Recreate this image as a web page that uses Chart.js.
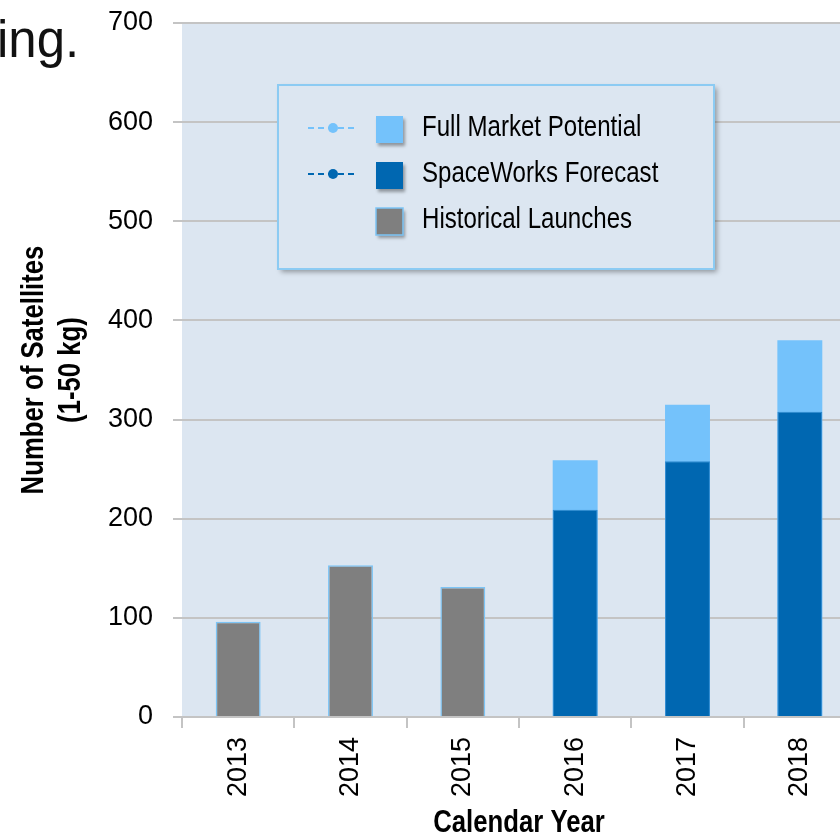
<!DOCTYPE html>
<html>
<head>
<meta charset="utf-8">
<script src="https://cdn.jsdelivr.net/npm/chart.js@4.4.1/dist/chart.umd.min.js"></script>
<style>
  html, body { margin: 0; padding: 0; background: #fff; overflow: hidden; }
  #wrap { position: relative; width: 840px; height: 838px; overflow: hidden; }
  #slideText { position: absolute; left: -3px; top: 10px; font: 51px "Liberation Sans", Arial, sans-serif; color: #111; }
  canvas { position: absolute; left: 0; top: 0; }
</style>
</head>
<body>
<div id="wrap">
  <canvas id="chart" width="856" height="838"></canvas>
  <div id="slideText">ing.</div>
</div>
<script>
// values
const years = ['2013', '2014', '2015', '2016', '2017', '2018'];
const historicalLaunches = [96, 153, 131, null, null, null];
const spaceWorksForecast = [null, null, null, 209, 258, 308];
const fullMarketPotential = [null, null, null, 259, 315, 380];
const yMax = 700;
const yStep = 100;

const sans = '"Liberation Sans", Arial, sans-serif';
const narrow = '"Liberation Sans Narrow", "Liberation Sans", Arial, sans-serif';
const gridGrey = '#c4c4c4';

// no Arial Narrow in the sandbox: squeeze text set in the "Narrow" family sideways
const canvas = document.getElementById('chart');
const narrowCtx = canvas.getContext('2d');
const plainFillText = narrowCtx.fillText;
narrowCtx.fillText = function (text, x, y) {
  if (this.font.indexOf('Narrow') < 0) {
    plainFillText.call(this, text, x, y);
    return;
  }
  this.save();
  this.translate(x, y);
  this.scale(0.83, 1);
  plainFillText.call(this, text, 0, 0);
  this.restore();
};

// light blue plot background
const plotBg = {
  id: 'plotBg',
  beforeDraw(chart) {
    const {ctx, chartArea: a} = chart;
    ctx.save();
    ctx.fillStyle = '#dce6f1';
    ctx.fillRect(a.left, a.top, a.right - a.left, a.bottom - a.top);
    ctx.restore();
  }
};

// boxed legend with shadow, drawn from the datasets
const boxLegend = {
  id: 'boxLegend',
  afterDraw(chart, args, opts) {
    const {ctx, chartArea: a} = chart;
    const x = a.left + opts.dx, y = a.top + opts.dy;
    ctx.save();
    ctx.shadowColor = 'rgba(0,0,0,0.35)';
    ctx.shadowOffsetX = 3;
    ctx.shadowOffsetY = 3;
    ctx.shadowBlur = 5;
    ctx.fillStyle = '#dce6f1';
    ctx.fillRect(x, y, opts.w, opts.h);
    ctx.shadowColor = 'transparent';
    ctx.strokeStyle = '#8ccbf3';
    ctx.lineWidth = 2;
    ctx.strokeRect(x, y, opts.w, opts.h);

    const sets = chart.data.datasets.slice().reverse();
    sets.forEach((ds, i) => {
      const cy = y + opts.firstRow + i * opts.rowGap;
      if (ds.legendLine) {
        ctx.strokeStyle = ds.backgroundColor;
        ctx.lineWidth = 2;
        ctx.setLineDash([6, 4]);
        ctx.beginPath();
        ctx.moveTo(x + 30, cy);
        ctx.lineTo(x + 78, cy);
        ctx.stroke();
        ctx.setLineDash([]);
        ctx.fillStyle = ds.backgroundColor;
        ctx.beginPath();
        ctx.arc(x + 55, cy, 5, 0, Math.PI * 2);
        ctx.fill();
      }
      ctx.save();
      ctx.shadowColor = 'rgba(0,0,0,0.35)';
      ctx.shadowOffsetX = 2;
      ctx.shadowOffsetY = 3;
      ctx.shadowBlur = 3;
      ctx.fillStyle = ds.backgroundColor;
      ctx.fillRect(x + 98, cy - 12, 27, 27);
      ctx.restore();
      if (ds.legendEdge) {
        ctx.strokeStyle = ds.borderColor;
        ctx.lineWidth = 1.5;
        ctx.strokeRect(x + 98, cy - 12, 27, 27);
      }
      ctx.fillStyle = '#000';
      ctx.font = '29px ' + narrow;
      ctx.textBaseline = 'middle';
      ctx.textAlign = 'left';
      ctx.fillText(ds.label, x + 144, cy);
    });
    ctx.restore();
  }
};

new Chart(canvas, {
  type: 'bar',
  data: {
    labels: years,
    datasets: [
      {
        label: 'Historical Launches',
        data: historicalLaunches,
        backgroundColor: '#7f7f7f',
        borderColor: '#7cc4f5',
        borderWidth: 1.5,
        legendEdge: true,
        order: 0
      },
      {
        label: 'SpaceWorks Forecast',
        data: spaceWorksForecast,
        backgroundColor: '#0067b1',
        borderColor: '#2f8ad0',
        borderWidth: 1,
        legendLine: true,
        order: 0
      },
      {
        label: 'Full Market Potential',
        data: fullMarketPotential,
        backgroundColor: '#74c2fb',
        borderWidth: 0,
        legendLine: true,
        order: 1
      }
    ]
  },
  options: {
    responsive: false,
    animation: false,
    layout: { padding: { top: 23, right: 0, left: 0, bottom: 0 } },
    datasets: { bar: { grouped: false, categoryPercentage: 0.8, barPercentage: 0.5 } },
    plugins: {
      legend: { display: false },
      tooltip: { enabled: false },
      boxLegend: { dx: 96, dy: 62, w: 436, h: 184, firstRow: 43, rowGap: 46 }
    },
    scales: {
      x: {
        offset: true,
        grid: { offset: true, drawOnChartArea: false, tickLength: 11, color: gridGrey, lineWidth: 2 },
        border: { display: false },
        ticks: {
          minRotation: 90, maxRotation: 90, padding: 9, color: '#000',
          font: { family: sans, size: 27 }
        },
        title: {
          display: true, text: 'Calendar Year', color: '#000',
          font: { family: narrow, size: 31, weight: 'bold', lineHeight: 1.0 },
          padding: { top: 0, bottom: -1 }
        },
        afterFit(s) { s.height = 121; }
      },
      y: {
        min: 0, max: yMax,
        grid: { color: gridGrey, lineWidth: 2, tickLength: 9 },
        border: { display: false },
        ticks: {
          stepSize: yStep, padding: 20, color: '#000',
          font: { family: sans, size: 27 }
        },
        title: {
          display: true, text: ['Number of Satellites', '(1-50 kg)'], color: '#000',
          font: { family: narrow, size: 31, weight: 'bold', lineHeight: 1.2 },
          padding: { top: 16, bottom: 0 }
        },
        afterFit(s) {
          s.width = 182;
          s.paddingTop = 0;
          s.paddingBottom = 0;
        }
      }
    }
  },
  plugins: [plotBg, boxLegend]
});
</script>
</body>
</html>
